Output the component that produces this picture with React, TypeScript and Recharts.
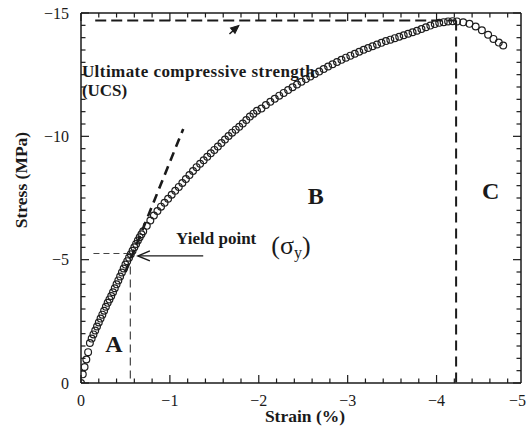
import React from "react";
import {
  ComposedChart,
  Scatter,
  XAxis,
  YAxis,
  ReferenceLine,
  ReferenceDot,
} from "recharts";

const FONT = "'Liberation Serif', 'Times New Roman', serif";
const INK = "#1a1a1a";

// strain (%) and stress (MPa), both negative (compression)
const STRAIN = [
  0, -0.02, -0.04, -0.06, -0.08, -0.1, -0.12, -0.14, -0.16, -0.18,
  -0.2, -0.22, -0.24, -0.26, -0.28, -0.3, -0.32, -0.34, -0.36, -0.38,
  -0.4, -0.42, -0.44, -0.46, -0.48, -0.5, -0.52, -0.54, -0.56, -0.58,
  -0.6, -0.62, -0.64, -0.66, -0.68, -0.7,
  -0.74, -0.78, -0.82, -0.86, -0.9, -0.94, -0.98, -1.02, -1.06, -1.1,
  -1.14, -1.18, -1.22, -1.26, -1.3, -1.34, -1.38, -1.42, -1.46, -1.5,
  -1.54, -1.58, -1.62, -1.66, -1.7, -1.74, -1.78, -1.82, -1.86, -1.9,
  -1.94, -1.98,
  -2.03, -2.08, -2.13, -2.18, -2.23, -2.28, -2.33, -2.38, -2.43, -2.48,
  -2.53, -2.58, -2.63, -2.68, -2.73, -2.78, -2.83, -2.88, -2.93, -2.98,
  -3.03, -3.08, -3.13, -3.18, -3.23, -3.28, -3.33, -3.38, -3.43, -3.48,
  -3.53, -3.58, -3.63, -3.68, -3.73, -3.78, -3.83, -3.88, -3.93, -3.98,
  -4.03, -4.08, -4.13, -4.18, -4.23,
  -4.3, -4.37, -4.44, -4.51, -4.58, -4.64, -4.7, -4.75,
];

const STRESS = [
  0, -0.35, -0.65, -0.95, -1.25, -1.62, -1.8, -1.97, -2.13, -2.29,
  -2.45, -2.61, -2.77, -2.93, -3.09, -3.25, -3.39, -3.53, -3.68, -3.84,
  -4.0, -4.16, -4.32, -4.48, -4.64, -4.8, -4.94, -5.08, -5.22, -5.36,
  -5.5, -5.64, -5.78, -5.91, -6.03, -6.15,
  -6.37, -6.59, -6.79, -6.97, -7.15, -7.31, -7.47, -7.63, -7.79, -7.95,
  -8.11, -8.27, -8.43, -8.59, -8.75, -8.89, -9.03, -9.17, -9.31, -9.45,
  -9.59, -9.73, -9.87, -10.01, -10.15, -10.27, -10.39, -10.52, -10.66, -10.8,
  -10.92, -11.04,
  -11.13, -11.27, -11.4, -11.52, -11.65, -11.76, -11.88, -11.99, -12.1, -12.21,
  -12.32, -12.43, -12.53, -12.63, -12.73, -12.83, -12.92, -13.01, -13.1, -13.19,
  -13.27, -13.35, -13.43, -13.51, -13.58, -13.65, -13.72, -13.79, -13.86, -13.92,
  -13.98, -14.04, -14.1, -14.16, -14.22, -14.28, -14.35, -14.42, -14.49, -14.55,
  -14.6, -14.63, -14.66, -14.67, -14.66,
  -14.62, -14.56, -14.45, -14.3, -14.12, -13.95, -13.8, -13.68,
];

const X_MAJOR = [0, -1, -2, -3, -4, -5];
const X_MINOR = [
  -0.2, -0.4, -0.6, -0.8, -1.2, -1.4, -1.6, -1.8, -2.2, -2.4, -2.6, -2.8,
  -3.2, -3.4, -3.6, -3.8, -4.2, -4.4, -4.6, -4.8,
];
const Y_MAJOR = [0, -5, -10, -15];
const Y_MINOR = [
  -0.5, -1, -1.5, -2, -2.5, -3, -3.5, -4, -4.5, -5.5, -6, -6.5, -7, -7.5,
  -8, -8.5, -9, -9.5, -10.5, -11, -11.5, -12, -12.5, -13, -13.5, -14, -14.5,
];

const X_END = -4.95;
const Y_END = -15;
const UCS = -14.7;
const UCS_STRAIN = -4.22;
const YIELD_STRAIN = -0.555;
const YIELD_STRESS = -5.25;

const data = STRAIN.map((strain, i) => ({ strain, stress: STRESS[i] }));

const W = 527;
const H = 436;
const BOX = { left: 81, right: 521, top: 13, bottom: 383 };

const fmt = (v: number) => (v === 0 ? "0" : `\u2212${Math.abs(v)}`);

const ring = (p: any) => (
  <circle cx={p.cx} cy={p.cy} r={3.4} fill="none" stroke="#1e1e1e" strokeWidth={1.2} />
);

const XTick = (p: any) => {
  const edge = p.x + 9 > W;
  return (
    <text
      x={edge ? W - 1 : p.x}
      y={BOX.bottom + 23}
      textAnchor={edge ? "end" : "middle"}
      fontFamily={FONT}
      fontSize={16}
      fill={INK}
    >
      {fmt(p.payload.value)}
    </text>
  );
};

const YTick = (p: any) => (
  <text x={BOX.left - 12} y={p.y} dy="0.355em" textAnchor="end" fontFamily={FONT} fontSize={16} fill={INK}>
    {fmt(p.payload.value)}
  </text>
);

// a short inward tick drawn from a point on the frame
const mark = (dx: number, dy: number) => (p: any) => (
  <line x1={p.cx} y1={p.cy} x2={p.cx + dx} y2={p.cy + dy} stroke={INK} strokeWidth={1.2} />
);

const label =
  (text: React.ReactNode, size: number, anchor: "start" | "middle" = "start", bold = true, spacing = 0) =>
  (p: any) => (
    <text
      x={p.cx}
      y={p.cy}
      textAnchor={anchor}
      fontFamily={FONT}
      fontSize={size}
      fontWeight={bold ? 700 : 400}
      letterSpacing={spacing}
      fill={INK}
    >
      {text}
    </text>
  );

const chevron = (p: any) => (
  <path d="M12,-5 L0,0 L12,5" transform={`translate(${p.cx},${p.cy})`} fill="none" stroke={INK} strokeWidth={1.4} />
);

const headUp = (p: any) => (
  <path
    d="M0,0 L-8,-3.5 L-8,3.5 Z"
    transform={`translate(${p.cx},${p.cy}) rotate(-40)`}
    fill={INK}
    stroke={INK}
    strokeWidth={1}
  />
);

const xTitle = (p: any) => {
  const { x, y, width } = p.viewBox;
  return (
    <text x={x + width / 2 + 4} y={y + 39} textAnchor="middle" fontFamily={FONT} fontSize={17.5} fontWeight={700} fill={INK}>
      Strain (%)
    </text>
  );
};

const yTitle = (p: any) => {
  const { y, height } = p.viewBox;
  const cy = y + height / 2 - 18;
  return (
    <text x={27} y={cy} transform={`rotate(-90 27 ${cy})`} textAnchor="middle" fontFamily={FONT} fontSize={17.5} fontWeight={700} fill={INK}>
      Stress (MPa)
    </text>
  );
};

export default function App() {
  const ids = { xAxisId: "x", yAxisId: "y", ifOverflow: "visible" as const };
  const xIn = X_MAJOR.filter((v) => v >= X_END);
  return (
    <div style={{ position: "absolute", left: 0, top: 0, width: W, height: H, overflow: "hidden", background: "#fff" }}>
      <ComposedChart width={W} height={H} margin={{ top: BOX.top, right: W - BOX.right, bottom: 0, left: 0 }}>
        <XAxis
          xAxisId="x"
          type="number"
          dataKey="strain"
          domain={[X_END, 0]}
          allowDataOverflow
          reversed
          ticks={X_MAJOR}
          interval={0}
          tick={XTick}
          tickLine={false}
          axisLine={false}
          height={H - BOX.bottom}
          label={xTitle}
        />
        <YAxis
          yAxisId="y"
          type="number"
          dataKey="stress"
          domain={[Y_END, 0]}
          allowDataOverflow
          reversed
          ticks={Y_MAJOR}
          interval={0}
          tick={YTick}
          tickLine={false}
          axisLine={false}
          width={BOX.left}
          label={yTitle}
        />

        {/* frame */}
        <ReferenceLine {...ids} segment={[{ x: 0, y: 0 }, { x: X_END, y: 0 }]} stroke={INK} strokeWidth={1.5} />
        <ReferenceLine {...ids} segment={[{ x: 0, y: Y_END }, { x: X_END, y: Y_END }]} stroke={INK} strokeWidth={1.5} />
        <ReferenceLine {...ids} segment={[{ x: 0, y: 0 }, { x: 0, y: Y_END }]} stroke={INK} strokeWidth={1.5} />
        <ReferenceLine {...ids} segment={[{ x: X_END, y: 0 }, { x: X_END, y: Y_END }]} stroke={INK} strokeWidth={1.5} />

        {/* inward ticks, all four sides */}
        {xIn.map((v) => (
          <ReferenceDot key={`xb${v}`} {...ids} x={v} y={0} shape={mark(0, -8)} />
        ))}
        {xIn.map((v) => (
          <ReferenceDot key={`xt${v}`} {...ids} x={v} y={Y_END} shape={mark(0, 8)} />
        ))}
        {X_MINOR.map((v) => (
          <ReferenceDot key={`xbm${v}`} {...ids} x={v} y={0} shape={mark(0, -4.5)} />
        ))}
        {X_MINOR.map((v) => (
          <ReferenceDot key={`xtm${v}`} {...ids} x={v} y={Y_END} shape={mark(0, 4.5)} />
        ))}
        {Y_MAJOR.map((v) => (
          <ReferenceDot key={`yl${v}`} {...ids} x={0} y={v} shape={mark(8, 0)} />
        ))}
        {Y_MAJOR.map((v) => (
          <ReferenceDot key={`yr${v}`} {...ids} x={X_END} y={v} shape={mark(-8, 0)} />
        ))}
        {Y_MINOR.map((v) => (
          <ReferenceDot key={`ylm${v}`} {...ids} x={0} y={v} shape={mark(4.5, 0)} />
        ))}
        {Y_MINOR.map((v) => (
          <ReferenceDot key={`yrm${v}`} {...ids} x={X_END} y={v} shape={mark(-4.5, 0)} />
        ))}

        {/* guide lines */}
        <ReferenceLine {...ids} segment={[{ x: -0.16, y: UCS }, { x: UCS_STRAIN, y: UCS }]}
          stroke={INK} strokeWidth={2} strokeDasharray="11 5" />
        <ReferenceLine {...ids} segment={[{ x: UCS_STRAIN, y: UCS }, { x: UCS_STRAIN, y: 0 }]}
          stroke={INK} strokeWidth={2} strokeDasharray="10 6" />
        <ReferenceLine {...ids} segment={[{ x: -0.14, y: YIELD_STRESS }, { x: YIELD_STRAIN, y: YIELD_STRESS }]}
          stroke="#444" strokeWidth={1.2} strokeDasharray="6 4" />
        <ReferenceLine {...ids} segment={[{ x: YIELD_STRAIN, y: YIELD_STRESS }, { x: YIELD_STRAIN, y: 0 }]}
          stroke="#444" strokeWidth={1.2} strokeDasharray="8 5" />
        <ReferenceLine {...ids} segment={[{ x: -0.5, y: -4.5 }, { x: -1.15, y: -10.3 }]}
          stroke={INK} strokeWidth={2.6} strokeDasharray="9 6" />

        <Scatter xAxisId="x" yAxisId="y" data={data} dataKey="stress" shape={ring} isAnimationActive={false} />

        {/* arrows */}
        <ReferenceLine {...ids} segment={[{ x: -1.375, y: -5.15 }, { x: -0.64, y: -5.15 }]} stroke={INK} strokeWidth={1.2} />
        <ReferenceDot {...ids} x={-0.64} y={-5.15} shape={chevron} />
        <ReferenceLine {...ids} segment={[{ x: -1.67, y: -14.15 }, { x: -1.765, y: -14.46 }]} stroke={INK} strokeWidth={1.5} />
        <ReferenceDot {...ids} x={-1.776} y={-14.49} shape={headUp} />

        {/* annotations */}
        <ReferenceDot {...ids} x={-0.01} y={-12.42} shape={label("Ultimate compressive strength", 17, "start", true, 0.45)} />
        <ReferenceDot {...ids} x={-0.01} y={-11.64} shape={label("(UCS)", 17)} />
        <ReferenceDot {...ids} x={-1.07} y={-5.63} shape={label("Yield point", 17)} />
        <ReferenceDot
          {...ids}
          x={-2.14}
          y={-5.24}
          shape={label(
            <>
              (σ<tspan fontSize={16} dy={4}>y</tspan>
              <tspan dy={-4}>)</tspan>
            </>,
            26,
            "start",
            false
          )}
        />
        <ReferenceDot {...ids} x={-0.37} y={-1.26} shape={label("A", 24, "middle")} />
        <ReferenceDot {...ids} x={-2.64} y={-7.26} shape={label("B", 24, "middle")} />
        <ReferenceDot {...ids} x={-4.61} y={-7.46} shape={label("C", 24, "middle")} />
      </ComposedChart>
    </div>
  );
}
